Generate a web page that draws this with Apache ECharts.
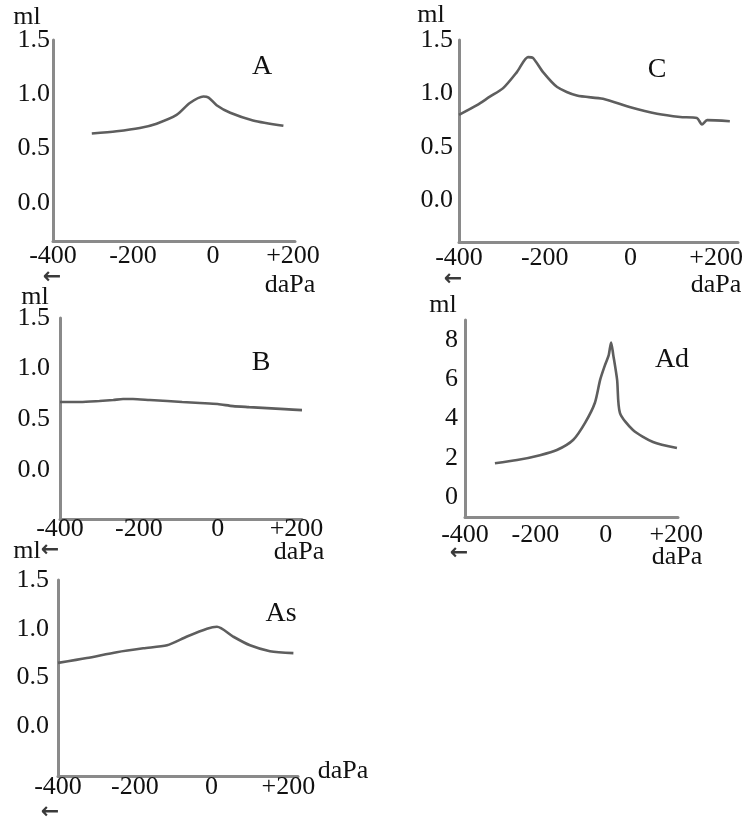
<!DOCTYPE html>
<html>
<head>
<meta charset="utf-8">
<script src="https://cdn.jsdelivr.net/npm/echarts@6/dist/echarts.min.js"></script>
<style>
html,body{margin:0;padding:0;background:#fff;}
#chart{width:748px;height:821px;}
</style>
</head>
<body>
<div id="chart"></div>
<script>
// ---- tick labels ----
const xTickValues = [-400, -200, 0, 200];
const xTickLabels = ['-400', '-200', '0', '+200'];
const yTickValues = [0, 0.5, 1.0, 1.5];
const yTickLabels = ['0.0', '0.5', '1.0', '1.5'];
const yTickValuesAd = [0, 2, 4, 6, 8];
const yTickLabelsAd = ['0', '2', '4', '6', '8'];
const panelNames = ['A', 'C', 'B', 'Ad', 'As'];
const yUnit = 'ml';
const xUnit = 'daPa';

// ---- series values (pressure daPa, volume ml) ----
const aPressure = [-303, -241, -183, -141, -91, -58, -24, -11, 9, 43, 100, 176];
const aVolume   = [0.64, 0.66, 0.69, 0.73, 0.81, 0.92, 0.98, 0.97, 0.90, 0.83, 0.76, 0.71];

const cPressure = [-400, -358, -328, -297, -265, -239, -227, -204, -171, -125, -64, 0, 62, 116, 155, 167, 179, 232];
const cVolume   = [0.80, 0.89, 0.97, 1.05, 1.20, 1.34, 1.33, 1.20, 1.06, 0.98, 0.95, 0.87, 0.81, 0.78, 0.77, 0.71, 0.75, 0.74];

const bPressure = [-400, -349, -300, -265, -240, -215, -172, -128, -90, -45, 0, 39, 80, 125, 170, 214];
const bVolume   = [0.67, 0.67, 0.68, 0.69, 0.70, 0.70, 0.69, 0.68, 0.67, 0.66, 0.65, 0.63, 0.62, 0.61, 0.60, 0.59];

const adPressure = [-315, -252, -187, -139, -93, -59, -31, -16, -2, 8, 15, 21, 32, 40, 77, 134, 202];
const adVolume   = [1.73, 1.89, 2.14, 2.40, 2.91, 3.78, 4.80, 5.97, 6.73, 7.2, 7.86, 7.24, 5.97, 4.29, 3.42, 2.81, 2.5];

const asPressure = [-400, -325, -247, -178, -116, -64, -12, 14, 56, 100, 152, 213];
const asVolume   = [0.65, 0.70, 0.76, 0.80, 0.83, 0.92, 1.00, 1.02, 0.92, 0.83, 0.77, 0.75];

// ---- layout ----
const FONT = "'Liberation Serif','Times New Roman',serif";
const panels = [
  {p: aPressure,  v: aVolume,  grid: {left: 53,  top: 40,  width: 242, height: 201}, x: [-400, 205], y: [-0.35, 1.5], yt: yTickValues,   yl: yTickLabels,   ym: 3,  xm: 2},
  {p: cPressure,  v: cVolume,  grid: {left: 459, top: 40,  width: 279, height: 202}, x: [-400, 251], y: [-0.39, 1.5], yt: yTickValues,   yl: yTickLabels,   ym: 6,  xm: 3},
  {p: bPressure,  v: bVolume,  grid: {left: 60,  top: 318, width: 242, height: 201}, x: [-400, 214], y: [-0.485, 1.5], yt: yTickValues,  yl: yTickLabels,   ym: 10, xm: -3},
  {p: adPressure, v: adVolume, grid: {left: 465, top: 320, width: 213, height: 197}, x: [-400, 205], y: [-1, 9],      yt: yTickValuesAd, yl: yTickLabelsAd, ym: 7,  xm: 5},
  {p: asPressure, v: asVolume, grid: {left: 58,  top: 580, width: 240, height: 196}, x: [-400, 225], y: [-0.51, 1.5], yt: yTickValues,   yl: yTickLabels,   ym: 9,  xm: -2}
];

const axisLine = {show: true, onZero: false, lineStyle: {color: '#8a8a8a', width: 3}};
const grids = [], xAxes = [], yAxes = [], series = [];
panels.forEach((pn, i) => {
  grids.push(Object.assign({outerBoundsMode: 'none', containLabel: false}, pn.grid));
  xAxes.push({
    type: 'value', gridIndex: i, min: pn.x[0], max: pn.x[1],
    axisLine: axisLine, axisTick: {show: false}, splitLine: {show: false},
    axisLabel: {
      customValues: xTickValues, margin: pn.xm,
      color: '#111', fontFamily: FONT, fontSize: 26,
      formatter: v => { const k = xTickValues.indexOf(v); return k >= 0 ? xTickLabels[k] : ''; }
    }
  });
  yAxes.push({
    type: 'value', gridIndex: i, min: pn.y[0], max: pn.y[1],
    axisLine: axisLine, axisTick: {show: false}, splitLine: {show: false},
    axisLabel: {
      customValues: pn.yt, margin: pn.ym,
      color: '#111', fontFamily: FONT, fontSize: 26,
      formatter: v => { const k = pn.yt.findIndex(t => Math.abs(t - v) < 1e-9); return k >= 0 ? pn.yl[k] : ''; }
    }
  });
  series.push({
    type: 'line', xAxisIndex: i, yAxisIndex: i,
    data: pn.p.map((x, j) => [x, pn.v[j]]),
    showSymbol: false, smooth: 0.25,
    lineStyle: {color: '#5e5e5e', width: 2.6},
    silent: true, animation: false
  });
});

// text annotations: unit labels, panel letters, arrows
const notes = [
  [yUnit, 27, 17, 26], [panelNames[0], 262, 67, 28], [xUnit, 290, 285, 26], ['←', 52, 277, 22, 'arrow'],
  [yUnit, 431, 15, 26], [panelNames[1], 657, 70, 28], [xUnit, 716, 285, 26], ['←', 453, 279, 22, 'arrow'],
  [yUnit, 35, 297, 26], [panelNames[2], 261, 363, 28], [xUnit, 299, 552, 26], ['←', 50, 550, 22, 'arrow'],
  [yUnit, 443, 305, 26], [panelNames[3], 672, 360, 28], [xUnit, 677, 557, 26], ['←', 459, 553, 22, 'arrow'],
  [yUnit, 27, 551, 26], [panelNames[4], 281, 614, 28], [xUnit, 343, 771, 26], ['←', 50, 812, 22, 'arrow']
];
const graphic = notes.map(n => ({
  type: 'text', x: n[1], y: n[2], z: 10, silent: true,
  style: {
    text: n[0],
    font: (n[4] === 'arrow' ? 'bold ' : '') + n[3] + 'px ' + (n[4] === 'arrow' ? "'DejaVu Sans',sans-serif" : FONT),
    fill: n[4] === 'arrow' ? '#3a3a3a' : '#111',
    align: 'center', verticalAlign: 'middle'
  }
}));

const chart = echarts.init(document.getElementById('chart'), null, {renderer: 'canvas'});
chart.setOption({
  animation: false,
  backgroundColor: '#fff',
  grid: grids, xAxis: xAxes, yAxis: yAxes, series: series,
  graphic: graphic
});
</script>
</body>
</html>
